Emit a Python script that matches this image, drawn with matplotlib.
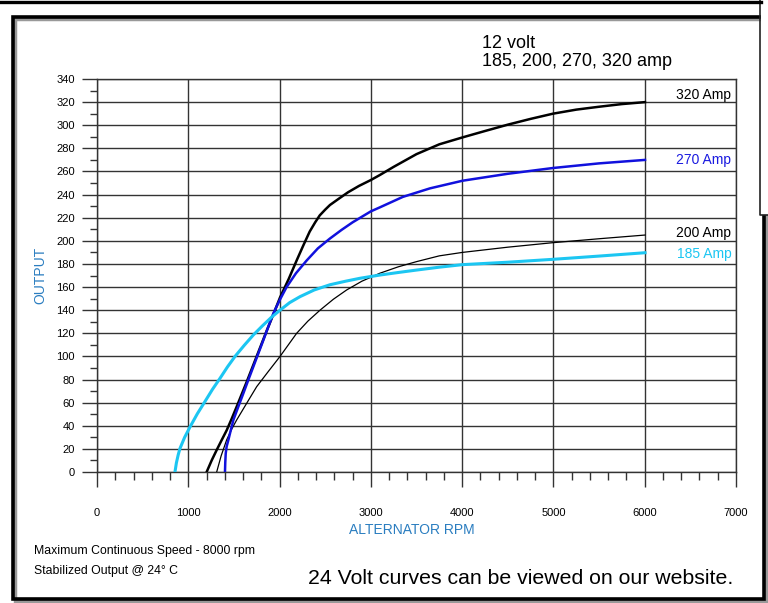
import matplotlib
matplotlib.use("Agg")
import matplotlib.pyplot as plt
from matplotlib.patches import Rectangle
from matplotlib.lines import Line2D

plt.rcParams['font.family'] = ['Liberation Sans', 'DejaVu Sans']

# values (rpm, amps)
rpm_185 = [854, 870, 890, 909, 960, 1019, 1100, 1183, 1265, 1347, 1430, 1512, 1612, 1712, 1813, 1913,
           2005, 2110, 2224, 2380, 2552, 2720, 2881, 3100, 3300, 3500, 3750, 4005, 4500, 4995, 5500, 6003]
amp_185 = [0, 8, 15, 20.4, 30, 39, 50.5, 61, 71.5, 81, 91, 100, 109.5, 118.5, 126.5, 134,
           140, 146.5, 151.7, 157.5, 162, 165, 167.6, 170.4, 172.6, 174.7, 177.2, 179.4, 181.5, 184, 186.8, 189.7]

rpm_200 = [1311, 1360, 1420, 1475, 1530, 1640, 1749, 1877, 2005, 2187, 2310, 2443, 2590, 2735, 2900,
           3100, 3300, 3500, 3750, 4005, 4500, 4995, 5500, 6003]
amp_200 = [0, 14, 27.7, 37, 45, 59.5, 73.8, 87, 100, 120, 130.5, 140, 149.5, 157.5, 165,
           172, 177.5, 182, 187, 190, 194.5, 198.4, 201.8, 205]

rpm_270 = [1402, 1405, 1410, 1420, 1439, 1465, 1494, 1548, 1603, 1657, 1712, 1767, 1822, 1876, 1931,
           2000, 2077, 2180, 2297, 2420, 2552, 2680, 2800, 3000, 3100, 3350, 3648, 4005, 4500, 4995,
           5500, 6003]
amp_270 = [0, 8, 16, 22, 27.7, 36, 45, 56.5, 68, 79.5, 91, 102.5, 114, 125.5, 137,
           148.5, 160, 172, 183, 193.5, 202, 209.5, 216, 225.5, 229, 238, 245.4, 252, 258, 263,
           267, 270]

rpm_320 = [1201, 1256, 1311, 1365, 1420, 1475, 1530, 1640, 1749, 1858, 1930, 2005, 2100, 2187, 2260,
           2330, 2390, 2440, 2500, 2552, 2650, 2750, 2870, 3000, 3100, 3250, 3500, 3750, 4005, 4250,
           4500, 4750, 4995, 5250, 5500, 5750, 6003]
amp_320 = [0, 10, 19, 27.5, 36, 46, 56.5, 78, 100, 122, 136, 151, 167, 183, 196,
           208, 216, 222, 227, 231, 236.5, 242, 247.5, 252.6, 257, 264, 275, 283.5, 289.5, 295,
           300.5, 305.5, 310, 313.5, 316, 318.3, 320]

curve_labels = ['320 Amp', '270 Amp', '200 Amp', '185 Amp']
label_y = [326, 270, 207, 188.6]
label_colors = ['black', '#1a1ae0', 'black', '#1cc6f2']

W, H = 768, 603
fig = plt.figure(figsize=(W / 100, H / 100), dpi=100)


def fx(px):
    return px / W


def fy(py):
    return 1 - py / H


# frame around the whole picture
tr = fig.transFigure
fig.patches.append(Rectangle((fx(14.5), fy(600.5)), fx(764) - fx(12.5), fy(17) - fy(598.5),
                             transform=tr, fill=False, ec='#999999', lw=2.5, zorder=0))
fig.patches.append(Rectangle((fx(12.5), fy(598.5)), fx(764) - fx(12.5), fy(17) - fy(598.5),
                             transform=tr, fill=False, ec='black', lw=2.6, zorder=1))
fig.patches.append(Rectangle((fx(760.5), fy(215)), fx(780) - fx(760.5), fy(-5) - fy(215),
                             transform=tr, fc='white', ec='none', zorder=2))
fig.lines.append(Line2D([fx(760), fx(760), fx(770)], [fy(0), fy(215), fy(215)],
                        transform=tr, color='#222222', lw=1.2, zorder=3))
fig.lines.append(Line2D([fx(0), fx(761)], [fy(1.5), fy(1.5)],
                        transform=tr, color='black', lw=2.4, zorder=3))

ax = fig.add_axes([fx(97), fy(472), fx(736) - fx(97), fy(79) - fy(472)])
ax.set_xlim(0, 7000)
ax.set_ylim(0, 340)

ax.plot(rpm_200, amp_200, color='black', lw=0.9, zorder=3)
ax.plot(rpm_320, amp_320, color='black', lw=1.8, zorder=4, solid_joinstyle='round')
ax.plot(rpm_270, amp_270, color='#1111dd', lw=1.8, zorder=5, solid_joinstyle='round')
ax.plot(rpm_185, amp_185, color='#1cc6f2', lw=2.2, zorder=6, solid_joinstyle='round')

for lab, yv, c in zip(curve_labels, label_y, label_colors):
    ax.text(6950, yv, lab, ha='right', va='center', color=c, fontsize=10)

ax.set_xticks(range(0, 8000, 1000))
ax.set_xticks(range(0, 7001, 200), minor=True)
ax.set_yticks(range(0, 341, 20))
ax.set_yticks(range(10, 340, 20), minor=True)
ax.grid(True, which='major', color='#333333', lw=1.0)
for s in ax.spines.values():
    s.set_color('#333333')
    s.set_linewidth(1.0)
ax.tick_params(axis='both', which='major', labelsize=8, color='#333333', width=1.0)
ax.tick_params(axis='y', which='major', length=10.5, pad=5.5)
ax.tick_params(axis='y', which='minor', length=5.2, width=1.0, color='#333333')
ax.tick_params(axis='x', which='major', length=11, pad=15)
ax.tick_params(axis='x', which='minor', length=5.5, width=1.0, color='#333333')

ax.set_xlabel('ALTERNATOR RPM', color='#2a7dc0', fontsize=10, va='center')
ax.xaxis.set_label_coords((412 - 97) / 639, (472 - 530) / 393)
ax.set_ylabel('OUTPUT', color='#2a7dc0', fontsize=10, va='center')
ax.yaxis.set_label_coords((40 - 97) / 639, 0.5)

fig.text(fx(482), fy(43), '12 volt', fontsize=13, va='center', ha='left')
fig.text(fx(482), fy(61), '185, 200, 270, 320 amp', fontsize=13, va='center', ha='left')
fig.text(fx(34), fy(551), 'Maximum Continuous Speed - 8000 rpm', fontsize=8.8, va='center')
fig.text(fx(34), fy(571), 'Stabilized Output @ 24\u00b0 C', fontsize=8.8, va='center')
fig.text(fx(733), fy(578), '24 Volt curves can be viewed on our website.', fontsize=15.3,
         va='center', ha='right')

fig.savefig('out.png', dpi=100)
